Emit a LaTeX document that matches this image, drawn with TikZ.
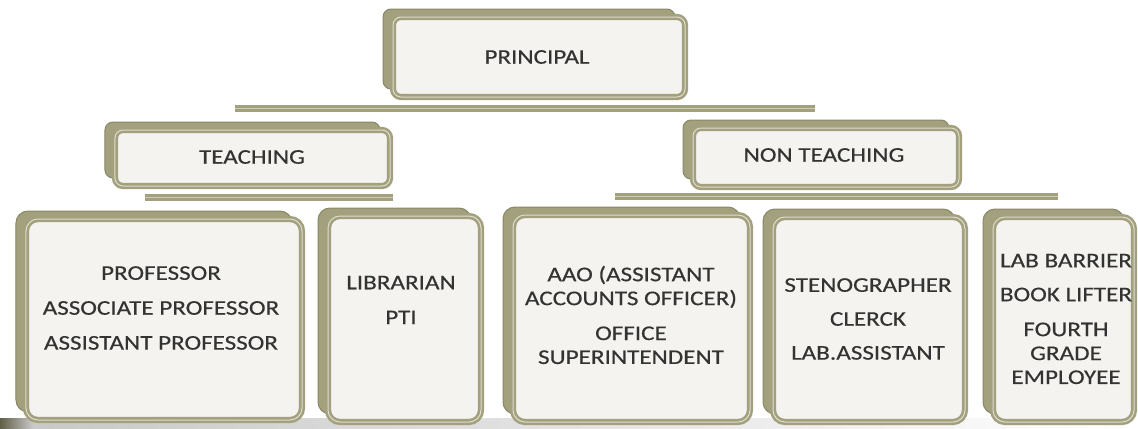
\documentclass[tikz,border=0pt]{standalone}
\usepackage{fontspec}
\setmainfont[FakeStretch=1.2,FakeBold=0.4]{Carlito}
\usetikzlibrary{shadows,backgrounds}
\definecolor{olivec}{HTML}{A3A07E}
\definecolor{olived}{HTML}{8A8766}
\definecolor{bandc}{HTML}{DEDCCD}
\definecolor{boxfill}{HTML}{F4F3EF}
\definecolor{textc}{HTML}{333333}
\begin{document}
\begin{tikzpicture}[x=1bp,y=-1bp,
  orgbox/.style n args={3}{draw=olivec, line width=2.6bp, double=bandc,
    double distance=1.0bp, fill=boxfill, rounded corners=#3, inner sep=0pt,
    minimum width=#1, minimum height=#2,
    general shadow={shadow xshift=-10bp, shadow yshift=8bp, fill=olivec,
      draw=olived, line width=1bp}},
  lbl/.style={text=textc, align=center, inner sep=0pt,
    font=\fontsize{21}{24}\selectfont},
  bar/.style={draw=olivec!55!white, line width=0.7bp,
    preaction={draw=olivec, line width=7bp}}]
\useasboundingbox (0,0) rectangle (1138,428);
\begin{scope}[on background layer]
  \shade[left color=black!22, right color=white] (0,418) rectangle (1138,428);
  \shade[left color=olived!70!black, right color=black!20] (0,418) rectangle (34,428);
\end{scope}
% top level
\node[orgbox={292bp}{80bp}{8bp}] (P) at (539,57) {};
\node[lbl] (tP) at (537,57) {PRINCIPAL};
% second level
\node[orgbox={275bp}{56bp}{8bp}] (T) at (252.5,158) {};
\node[lbl] (tT) at (252,157) {TEACHING};
\node[orgbox={266bp}{59bp}{8bp}] (N) at (826,157.5) {};
\node[lbl] (tN) at (824,155) {NON TEACHING};
% connector bars
\coordinate (b1l) at (235,108);
\coordinate (b1r) at (815,108);
\draw[bar] (b1l) -- (b1r);
\coordinate (b2l) at (145,197);
\coordinate (b2r) at (393,197);
\draw[bar] (b2l) -- (b2r);
\coordinate (b3l) at (615,196);
\coordinate (b3r) at (1058,196);
\draw[bar] (b3l) -- (b3r);
% bottom level
\node[orgbox={276bp}{201bp}{12bp}] (B1) at (164,319.5) {};
\node[lbl] (t1) at (161,308) {PROFESSOR\\[11bp]ASSOCIATE PROFESSOR\\[11bp]ASSISTANT PROFESSOR};
\node[orgbox={153bp}{206bp}{12bp}] (B2) at (404.5,319) {};
\node[lbl] (t2) at (401,300) {LIBRARIAN\\[11bp]PTI};
\node[orgbox={237bp}{207bp}{12bp}] (B3) at (631.5,318.5) {};
\node[lbl] (t3) at (631,315) {AAO (ASSISTANT\\ACCOUNTS OFFICER)\\[11bp]OFFICE\\SUPERINTENDENT};
\node[orgbox={192bp}{205bp}{12bp}] (B4) at (869,319.5) {};
\node[lbl] (t4) at (868,319) {STENOGRAPHER\\[10bp]CLERCK\\[10bp]LAB.ASSISTANT};
\node[orgbox={141bp}{205bp}{12bp}] (B5) at (1063.5,319.5) {};
\node[lbl] (t5) at (1066,319) {LAB BARRIER\\[10bp]BOOK LIFTER\\[11bp]FOURTH\\GRADE\\EMPLOYEE};
\end{tikzpicture}
\end{document}
